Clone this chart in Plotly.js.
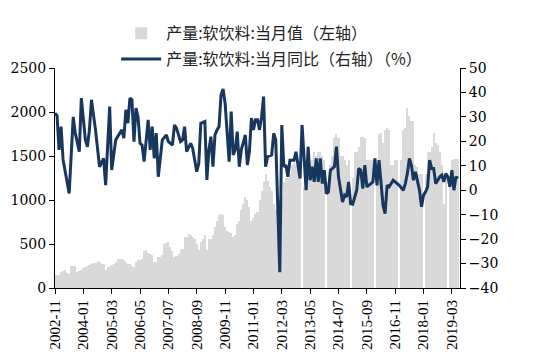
<!DOCTYPE html>
<html><head><meta charset="utf-8">
<script src="https://cdn.plot.ly/plotly-3.0.1.min.js"></script>
<style>body{margin:0;background:#fff}</style>
</head><body><div id="chart" style="width:536px;height:358px"></div>
<script>
// Monthly categories 2002-11 .. 2019-06
const firstYear = 2002, firstMonth = 11, monthCount = 200;
const months = [];
for (let k = 0; k < monthCount; k++) {
  const m0 = firstMonth - 1 + k;
  const y = firstYear + Math.floor(m0 / 12), m = m0 % 12 + 1;
  months.push(y + '-' + String(m).padStart(2, '0'));
}
const tickLabels = ['2002-11','2004-01','2005-03','2006-05','2007-07','2008-09','2009-11',
  '2011-01','2012-03','2013-05','2014-07','2015-09','2016-11','2018-01','2019-03'];

// 产量:软饮料:当月值 (左轴, 万吨)
const outputValues = [
  144,144,150,181,190,200,170,163,246,246,
  246,181,190,200,230,238,245,260,276,280,
  285,306,300,276,270,200,238,245,260,276,
  290,333,335,330,321,300,276,276,245,238,
  300,314,314,330,420,427,400,389,380,295,
  300,352,352,380,503,510,522,465,420,352,
  360,389,440,446,578,585,616,600,578,560,
  500,427,522,560,597,427,560,560,600,692,
  760,824,843,830,692,650,635,630,578,600,
  730,760,881,950,1032,1000,919,767,800,843,
  860,1000,1108,1200,1297,1220,1150,1100,950,900,
  950,1000,1050,1200,1250,1250,1300,1400,1420,1400,
  1380,1300,null,1150,1300,1350,1400,1450,1550,1500,
  1550,1550,1500,1450,null,1200,1400,1500,1700,1750,
  1700,1500,1500,1450,1400,1450,null,1250,1550,1550,
  1600,1720,1720,1700,1450,1450,1450,1450,null,1300,
  1750,1760,1650,1800,1820,1800,1400,1400,1450,1450,
  null,1450,1800,1820,2040,1950,1900,1900,1400,1380,
  1300,1300,null,1300,1550,1550,1600,1760,1650,1620,
  1550,1400,950,1250,null,1200,1450,1470,1470,1470
];

// 产量:软饮料:当月同比 (右轴, %)
const yoyValues = [
  31.5,30.5,16.5,26,12.4,null,null,-1.3,null,30,
  23.4,null,15.8,37.7,null,20.6,17.8,24.7,37,null,
  24.7,null,9.6,null,13,2.1,null,34.2,8.3,null,
  20.6,null,null,24.7,21.3,32.9,27.4,37.7,37,19.9,
  33.6,30,19.2,18.5,11.7,null,28.8,16.5,26,13,
  23.4,5.5,null,20.6,null,22.6,19.9,null,18.5,26.7,
  25.4,null,19.9,20.6,26,15.8,null,19.2,17.1,null,
  7.6,11,27.4,null,28.1,4.2,16.5,21.9,9.6,22.6,
  24.7,26,39,41.4,35.6,null,11.7,32.2,14.4,16.5,
  24,9.6,16.5,null,22.6,10.3,15.8,29.5,24.7,28.8,
  28.8,24.7,30,38.3,9.6,13.7,null,14.4,23.3,20.5,
  null,-33.5,26.7,9.6,10.3,5.5,12.3,null,12.3,15.7,
  9.6,4.8,26.7,13.7,0,17.8,4.1,9.6,3.4,13,
  3.4,13,2.7,8.2,-1.4,-0.7,8.2,null,9.6,17.8,
  5.5,null,-4.8,-2,-2.7,3.4,-5.5,-5.7,null,0,
  8.9,8.2,0.7,10.3,1.4,null,2.7,3.4,13,2,
  12.3,1.4,-6.2,-9.6,2,1.4,2.7,4.1,3.4,2.7,
  2,null,0,2.7,6.8,13,10.3,4.1,7.5,4.1,
  0,-6.8,-2,-0.7,1.4,12.3,8.9,8.9,2.7,null,
  5.5,6.2,3.4,6.8,5.5,1.4,8.2,0,5.5,4.8
];

const seriesNames = ['产量:软饮料:当月值（左轴）', '产量:软饮料:当月同比（右轴）（%）'];

const traces = [
  {type: 'bar', x: months, y: outputValues, name: seriesNames[0], yaxis: 'y',
   marker: {color: '#d9d9d9', line: {width: 0}}, legendgroup: 'a'},
  {type: 'scatter', mode: 'lines', x: months, y: yoyValues, name: seriesNames[1], yaxis: 'y2',
   connectgaps: true, line: {color: '#17375e', width: 3}, legendgroup: 'b'}
];

const axisFont = {family: 'DejaVu Serif', size: 14, color: '#000'};
const layout = {
  width: 536, height: 358,
  margin: {l: 55, r: 76, t: 68, b: 70},
  paper_bgcolor: '#fff', plot_bgcolor: '#fff',
  bargap: 0,
  showlegend: true,
  legend: {x: 0.151, xanchor: 'left', y: 1.235, yanchor: 'top', orientation: 'v',
           font: {family: 'Noto Sans CJK SC', size: 16, color: '#222'},
           bgcolor: 'rgba(0,0,0,0)', itemwidth: 40, tracegroupgap: 2, traceorder: 'grouped'},
  xaxis: {type: 'category', categoryorder: 'array', categoryarray: months,
          range: [0, 200], tickmode: 'array', tickvals: tickLabels, ticktext: tickLabels,
          tickangle: -90, ticks: 'outside', ticklen: 5, tickcolor: '#000',
          showline: true, linecolor: '#000', linewidth: 1, showgrid: false, zeroline: false,
          tickfont: {family: 'Liberation Serif', size: 15, color: '#000'}},
  yaxis: {range: [0, 2500], dtick: 500, tick0: 0, ticks: 'outside', ticklen: 5, tickcolor: '#000',
          showline: true, linecolor: '#000', showgrid: false, zeroline: false, tickfont: axisFont},
  yaxis2: {range: [-40, 50], dtick: 10, tick0: 0, overlaying: 'y', side: 'right',
           ticks: 'outside', ticklen: 5, tickcolor: '#000',
           showline: true, linecolor: '#000', showgrid: false, zeroline: false, tickfont: axisFont}
};

Plotly.newPlot('chart', traces, layout, {displayModeBar: false, staticPlot: true});
</script>
</body></html>
